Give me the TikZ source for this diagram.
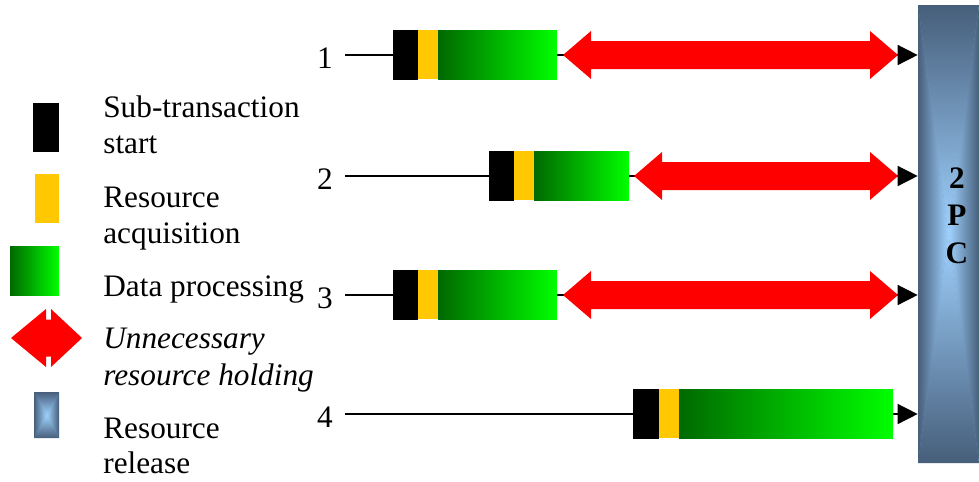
\documentclass[tikz,border=0pt]{standalone}
\usepackage{fontspec}
\setmainfont{Liberation Serif}
\usetikzlibrary{arrows.meta}
\definecolor{bardark}{RGB}{70,94,122}
\definecolor{barmid}{RGB}{110,150,195}
\definecolor{barlight}{RGB}{160,210,255}
\definecolor{gdark}{RGB}{0,105,0}
\definecolor{glight}{RGB}{0,255,0}
\definecolor{yel}{RGB}{255,200,0}
\newcommand\barshade[4]{%
  \fill[barmid] (#1,#2) rectangle (#3,#4);
  \shade[left color=bardark,right color=barlight] (#1,#2) -- (#1,#4) -- ({(#1+#3)/2},{(#2+#4)/2}) -- cycle;
  \shade[right color=bardark,left color=barlight] (#3,#2) -- (#3,#4) -- ({(#1+#3)/2},{(#2+#4)/2}) -- cycle;
  \shade[top color=bardark,bottom color=barlight] (#1,#2) -- (#3,#2) -- ({(#1+#3)/2},{(#2+#4)/2}) -- cycle;
  \shade[bottom color=bardark,top color=barlight] (#1,#4) -- (#3,#4) -- ({(#1+#3)/2},{(#2+#4)/2}) -- cycle;
}
\newcommand\holdarrow[3]{%
  \fill[red] (#1,#3) -- (#1+28,#3-24) -- (#1+28,#3-14) -- (#2-28,#3-14) -- (#2-28,#3-24) -- (#2,#3)
    -- (#2-28,#3+24) -- (#2-28,#3+14) -- (#1+28,#3+14) -- (#1+28,#3+24) -- cycle;
}
\newcommand\txbar[5]{% black start, yellow start, green start, green end, y
  \fill[black] (#1,#5-25) rectangle (#2,#5+25);
  \fill[yel] (#2,#5-25) rectangle (#3,#5+24);
  \shade[left color=gdark,right color=glight] (#3,#5-25) rectangle (#4,#5+24);
}
\tikzset{
  txt/.style={font=\fontsize{17.8pt}{20pt}\selectfont, inner sep=0pt, anchor=base west},
  num/.style={font=\fontsize{17.8pt}{20pt}\selectfont, inner sep=0pt, anchor=base east},
  pcl/.style={font=\fontsize{17.8pt}{20pt}\selectfont\bfseries, inner sep=0pt, anchor=base},
  conn/.style={line width=0.85pt, -{Triangle[length=0.4cm,width=0.4cm]}},
}
\begin{document}
\begin{tikzpicture}[x=0.02cm,y=-0.02cm]
\useasboundingbox (0,0) rectangle (979,481);
% 2PC bar
\barshade{918}{5}{979}{463}
\node[inner sep=0pt, minimum width=1.22cm, minimum height=9.16cm] (pc) at (948.5,234) {};
\node[pcl] (pc2) at (957,188) {2};
\node[pcl] (pcP) at (957,225) {P};
\node[pcl] (pcC) at (957,263) {C};
% rows
\foreach \y/\n in {55/1,176/2,295/3,414/4}{
  \coordinate (s\n) at (345,\y);
  \node[num] (n\n) at (333,\y+13) {\n};
  \draw[conn] (s\n) -- (s\n -| pc.west);
}
\txbar{393}{418}{438}{557}{55}
\holdarrow{563}{898}{55}
\txbar{489}{514}{534}{629}{176}
\holdarrow{634}{898}{176}
\txbar{393}{418}{438}{557}{295}
\holdarrow{563}{898}{295}
\txbar{633}{659}{679}{893}{414}
% legend
\fill[black] (33,103) rectangle (59,152);
\fill[yel] (35,174) rectangle (59,223);
\shade[left color=gdark,right color=glight] (10,246) rectangle (59,295);
\fill[red] (11,338) -- (46,309) -- (46,319.5) -- (51,319.5) -- (51,309) -- (82,338) -- (51,367) -- (51,356.5) -- (46,356.5) -- (46,367) -- cycle;
\barshade{34}{392}{59}{438}
\node[txt] (l1a) at (103,117) {Sub-transaction};
\node[txt] (l1b) at (103,153) {start};
\node[txt] (l2a) at (103,207) {Resource};
\node[txt] (l2b) at (103,243) {acquisition};
\node[txt] (l3a) at (103,296) {Data processing};
\node[txt] (l4a) at (103,348) {\itshape Unnecessary};
\node[txt] (l4b) at (103,385) {\itshape resource holding};
\node[txt] (l5a) at (103,438) {Resource};
\node[txt] (l5b) at (103,473) {release};
\end{tikzpicture}
\end{document}
